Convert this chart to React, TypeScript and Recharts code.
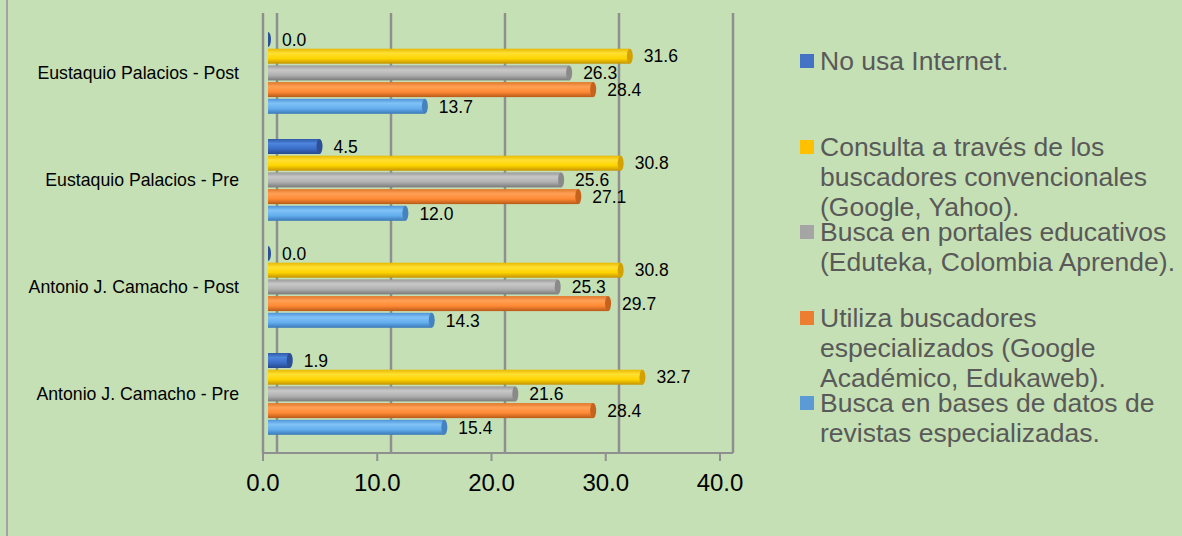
import React from 'react';
import { BarChart, Bar, XAxis, YAxis, CartesianGrid, LabelList } from 'recharts';

const categories = [
  'Eustaquio Palacios - Post',
  'Eustaquio Palacios - Pre',
  'Antonio J. Camacho - Post',
  'Antonio J. Camacho - Pre',
];
const noUsa = [0.0, 4.5, 0.0, 1.9];
const consulta = [31.6, 30.8, 30.8, 32.7];
const portales = [26.3, 25.6, 25.3, 21.6];
const especializados = [28.4, 27.1, 29.7, 28.4];
const bases = [13.7, 12.0, 14.3, 15.4];
const xTicks = [0, 10, 20, 30, 40];

const seriesNames = [
  'No usa Internet.',
  'Consulta a través de los\nbuscadores convencionales\n(Google, Yahoo).',
  'Busca en portales educativos\n(Eduteka, Colombia Aprende).',
  'Utiliza buscadores\nespecializados (Google\nAcadémico, Edukaweb).',
  'Busca en bases de datos de\nrevistas especializadas.',
];

const seriesStyle = [
  { key: 'noUsa', color: '#4472c4', stops: ['#2f5aa8', '#4d84dc', '#3a6cc6', '#274a8c'], cap: '#2c4f95' },
  { key: 'consulta', color: '#ffc000', stops: ['#e8b800', '#ffe033', '#ffd500', '#c49400'], cap: '#d4a200' },
  { key: 'portales', color: '#a5a5a5', stops: ['#9a9a9a', '#c8c8c8', '#b0b0b0', '#7a7a7a'], cap: '#8a8a8a' },
  { key: 'especializados', color: '#ed7d31', stops: ['#e0772a', '#ffa055', '#ff8a35', '#b85a18'], cap: '#c4621e' },
  { key: 'bases', color: '#5b9bd5', stops: ['#4f93d8', '#80c2f6', '#64aeee', '#3a78b8'], cap: '#4583c0' },
];
const valueLists = [noUsa, consulta, portales, especializados, bases];

const data = categories.map((name, i) => {
  const row: Record<string, any> = { name };
  seriesStyle.forEach((s, j) => {
    row[s.key] = valueLists[j][i];
  });
  return row;
});

const GRID = '#8f8f8f';
const FONT = '"Liberation Sans", Arial, sans-serif';

const Cylinder = (props: any) => {
  const { x, y, width, height, gid, cap } = props;
  if (x == null || y == null) return null;
  const w = Math.max(0, width || 0);
  const h = height || 0;
  return (
    <g>
      {w > 0 && <rect x={x} y={y} width={w} height={h} fill={`url(#${gid})`} />}
      {w > 0 && <ellipse cx={x} cy={y + h / 2} rx={2} ry={h / 2} fill={`url(#${gid})`} />}
      <ellipse cx={x + w} cy={y + h / 2} rx={3} ry={h / 2} fill={cap} />
    </g>
  );
};

export default function App() {
  return (
    <div
      style={{
        position: 'absolute',
        left: 0,
        top: 0,
        width: 1182,
        height: 536,
        background: '#c5e0b4',
        fontFamily: FONT,
        overflow: 'hidden',
      }}
    >
      <div style={{ position: 'absolute', left: 6, top: 0, width: 2, height: 536, background: '#a3a3a3' }} />
      <BarChart
        width={1182}
        height={536}
        data={data}
        layout="vertical"
        margin={{ top: 13, right: 449, bottom: 0, left: 0 }}
        barSize={15}
        barGap={1.7}
        style={{ position: 'absolute', left: 0, top: 0, fontFamily: FONT }}
      >
        <defs>
          {seriesStyle.map((s) => (
            <linearGradient key={s.key} id={`g-${s.key}`} x1="0" y1="0" x2="0" y2="1">
              <stop offset="0%" stopColor={s.stops[0]} />
              <stop offset="30%" stopColor={s.stops[1]} />
              <stop offset="65%" stopColor={s.stops[2]} />
              <stop offset="100%" stopColor={s.stops[3]} />
            </linearGradient>
          ))}
        </defs>
        <XAxis
          xAxisId="front"
          type="number"
          domain={[0, 40]}
          ticks={xTicks}
          interval={0}
          allowDataOverflow
          padding={{ left: 0, right: 13 }}
          height={83}
          axisLine={{ stroke: GRID, strokeWidth: 2 }}
          tickLine={{ stroke: GRID, strokeWidth: 2 }}
          tickSize={8}
          tickMargin={13}
          tickFormatter={(v: number) => v.toFixed(1)}
          tick={{ fontSize: 24, fill: '#000' }}
        />
        <XAxis
          xAxisId="bar"
          orientation="top"
          type="number"
          domain={[0, 40]}
          allowDataOverflow
          hide
          padding={{ left: 5, right: 7 }}
        />
        <XAxis
          xAxisId="grid"
          orientation="top"
          type="number"
          domain={[0, 40]}
          ticks={xTicks}
          interval={0}
          allowDataOverflow
          hide
          padding={{ left: 14, right: 0 }}
        />
        <YAxis
          yAxisId="cat"
          type="category"
          dataKey="name"
          width={263}
          interval={0}
          padding={{ top: 6, bottom: 6 }}
          axisLine={{ stroke: GRID, strokeWidth: 2 }}
          tickLine={false}
          tickSize={0}
          tickMargin={24}
          tick={{ fontSize: 17.7, fill: '#000' }}
        />
        <CartesianGrid
          xAxisId="grid"
          yAxisId="cat"
          horizontal={false}
          vertical
          stroke={GRID}
          strokeWidth={2.5}
        />
        {seriesStyle.map((s, j) => (
          <Bar
            key={s.key}
            dataKey={s.key}
            name={seriesNames[j]}
            xAxisId="bar"
            yAxisId="cat"
            fill={s.color}
            isAnimationActive={false}
            shape={(p: any) => <Cylinder {...p} gid={`g-${s.key}`} cap={s.cap} />}
          >
            <LabelList
              dataKey={s.key}
              position="right"
              offset={14}
              formatter={(v: any) => Number(v).toFixed(1)}
              style={{ fontSize: 17.5, fill: '#000', fontFamily: FONT }}
            />
          </Bar>
        ))}
      </BarChart>
      <div style={{ position: 'absolute', left: 800, top: 46, width: 382 }}>
        {seriesStyle.map((s, j) => (
          <div key={s.key} style={{ position: 'relative', height: 85.5 }}>
            <span
              style={{ position: 'absolute', left: 0, top: 8, width: 14, height: 14, background: s.color }}
            />
            <div
              style={{
                marginLeft: 20,
                fontSize: 26.5,
                lineHeight: '30px',
                color: '#595959',
                whiteSpace: 'pre-line',
              }}
            >
              {seriesNames[j]}
            </div>
          </div>
        ))}
      </div>
    </div>
  );
}
